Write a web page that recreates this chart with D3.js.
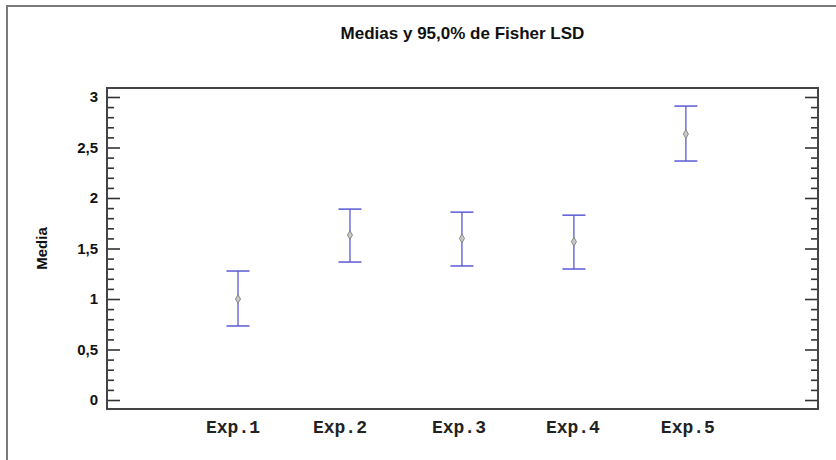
<!DOCTYPE html>
<html>
<head>
<meta charset="utf-8">
<script src="https://cdn.jsdelivr.net/npm/d3@7"></script>
<style>
  html, body { margin: 0; padding: 0; background: #fff; }
  svg { display: block; }
</style>
</head>
<body>
<svg id="chart" width="836" height="460"></svg>
<script>
// Data
const categories = ["Exp.1", "Exp.2", "Exp.3", "Exp.4", "Exp.5"];
const means = [1.0, 1.633, 1.6, 1.567, 2.633];
const lower = [0.733, 1.366, 1.327, 1.297, 2.366];
const upper = [1.277, 1.89, 1.86, 1.83, 2.91];
const yTicks = [0, 0.5, 1, 1.5, 2, 2.5, 3];
const yTickLabels = ["0", "0,5", "1", "1,5", "2", "2,5", "3"];
const title = "Medias y 95,0% de Fisher LSD";
const yLabel = "Media";

const svg = d3.select("#chart");
const W = 836, H = 460;
const plot = { left: 107, right: 818, top: 88, bottom: 409 };

// Outer frame (top and left edges visible)
svg.append("path")
  .attr("d", `M7,${H} L7,6 L${W},6`)
  .attr("fill", "none")
  .attr("stroke", "#7a7a7a")
  .attr("stroke-width", 2);

const x = d3.scaleLinear()
  .domain([-0.17, categories.length + 1.18])
  .range([plot.left, plot.right]);
const y = d3.scaleLinear()
  .domain([-0.089, 3.089])
  .range([plot.bottom, plot.top]);

// Minor ticks (0.1), left and right, inward
const minorTicks = d3.range(0, 31).map(i => i / 10).filter(v => Math.abs(v * 2 - Math.round(v * 2)) > 1e-6);

const leftMinor = d3.axisRight(y).tickValues(minorTicks).tickSize(7).tickFormat("");
const leftMajor = d3.axisRight(y).tickValues(yTicks).tickSize(13).tickFormat("");
const rightMinor = d3.axisLeft(y).tickValues(minorTicks).tickSize(7).tickFormat("");
const rightMajor = d3.axisLeft(y).tickValues(yTicks).tickSize(13).tickFormat("");

function styleAxis(g) {
  g.select(".domain").remove();
  g.selectAll(".tick line").attr("stroke", "#333").attr("stroke-width", 1.6);
}
svg.append("g").attr("transform", `translate(${plot.left},0)`).call(leftMinor).call(styleAxis);
svg.append("g").attr("transform", `translate(${plot.left},0)`).call(leftMajor).call(styleAxis);
svg.append("g").attr("transform", `translate(${plot.right},0)`).call(rightMinor).call(styleAxis);
svg.append("g").attr("transform", `translate(${plot.right},0)`).call(rightMajor).call(styleAxis);

// Y tick labels
svg.append("g").selectAll("text")
  .data(yTicks)
  .join("text")
  .attr("x", plot.left - 9)
  .attr("y", d => y(d))
  .attr("dy", "0.36em")
  .attr("text-anchor", "end")
  .attr("font-family", "Liberation Sans, Arial, sans-serif")
  .attr("font-weight", "bold")
  .attr("font-size", 15)
  .attr("fill", "#111")
  .text((d, i) => yTickLabels[i]);

// Plot box
svg.append("rect")
  .attr("x", plot.left).attr("y", plot.top)
  .attr("width", plot.right - plot.left)
  .attr("height", plot.bottom - plot.top)
  .attr("fill", "none")
  .attr("stroke", "#444")
  .attr("stroke-width", 2);

// Error bars
const g = svg.append("g");
const capW = 11.5;
categories.forEach((c, i) => {
  const cx = x(i + 1);
  g.append("line")
    .attr("x1", cx).attr("x2", cx)
    .attr("y1", y(lower[i])).attr("y2", y(upper[i]))
    .attr("stroke", "#5a5ad6").attr("stroke-width", 1.3);
  [lower[i], upper[i]].forEach(v => {
    g.append("line")
      .attr("x1", cx - capW).attr("x2", cx + capW)
      .attr("y1", y(v)).attr("y2", y(v))
      .attr("stroke", "#5a5ad6").attr("stroke-width", 1.5);
  });
  g.append("path")
    .attr("d", d3.symbol(d3.symbolDiamond, 22)())
    .attr("transform", `translate(${cx},${y(means[i])})`)
    .attr("fill", "#c8c8c8")
    .attr("stroke", "#888")
    .attr("stroke-width", 1);
});

// X labels
const labelOffsets = [-5, -10, -3, -1, 2];
svg.append("g").selectAll("text")
  .data(categories)
  .join("text")
  .attr("x", (d, i) => x(i + 1) + labelOffsets[i])
  .attr("y", 433)
  .attr("text-anchor", "middle")
  .attr("font-family", "Liberation Mono, Courier New, monospace")
  .attr("font-weight", "bold")
  .attr("font-size", 18)
  .attr("fill", "#222")
  .text(d => d);

// Title
svg.append("text")
  .attr("x", (plot.left + plot.right) / 2)
  .attr("y", 39)
  .attr("text-anchor", "middle")
  .attr("font-family", "Liberation Sans, Arial, sans-serif")
  .attr("font-weight", "bold")
  .attr("font-size", 17)
  .attr("fill", "#111")
  .text(title);

// Y label
svg.append("text")
  .attr("transform", `translate(47,${(plot.top + plot.bottom) / 2}) rotate(-90)`)
  .attr("text-anchor", "middle")
  .attr("font-family", "Liberation Sans, Arial, sans-serif")
  .attr("font-weight", "bold")
  .attr("font-size", 15)
  .attr("fill", "#111")
  .text(yLabel);
</script>
</body>
</html>
